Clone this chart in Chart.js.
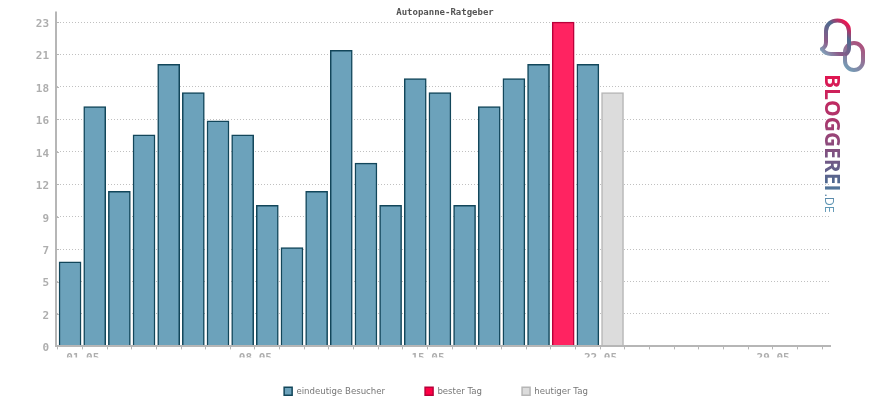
<!DOCTYPE html>
<html>
<head>
<meta charset="utf-8">
<title>Autopanne-Ratgeber</title>
<script src="https://cdn.jsdelivr.net/npm/chart.js@4"></script>
<style>
  body { margin: 0; background: #fff; }
  canvas { display: block; }
</style>
</head>
<body>
<canvas id="chart" width="870" height="400"></canvas>
<script>
// Tage im Monat
const days = [1, 2, 3, 4, 5, 6, 7, 8, 9, 10, 11, 12, 13, 14, 15, 16, 17, 18, 19, 20, 21, 22, 23, 24, 25, 26, 27, 28, 29, 30, 31];
const dayLabels = { 1: "01.05.", 8: "08.05.", 15: "15.05.", 22: "22.05.", 29: "29.05." };

// Werte
const visitors = [6, 17, 11, 15, 20, 18, 16, 15, 10, 7, 11, 21, 13, 10, 19, 18, 10, 17, 19, 20, null, 20];
const bestDay = [null, null, null, null, null, null, null, null, null, null, null, null, null, null, null, null, null, null, null, null, 23];
const today = [null, null, null, null, null, null, null, null, null, null, null, null, null, null, null, null, null, null, null, null, null, null, 18];

// y-Achse: Ticks alle 2,3, Labels gerundet
const yTicks = [0, 2.3, 4.6, 6.9, 9.2, 11.5, 13.8, 16.1, 18.4, 20.7, 23];
const yLabels = ["0", "2", "5", "7", "9", "12", "14", "16", "18", "21", "23"];

const AXIS = "#b6b6b6";
const LABEL = "#aeaeae";
const MONO = "'DejaVu Sans Mono', monospace";

function points(values) {
  return days.map((d, i) => ({ x: d, y: values[i] ?? null }));
}

// Titel und Legende nachjustieren, kleine Ticks innen, Logo
const extras = {
  id: "extras",
  afterLayout(chart) {
    chart.legend.left += 21;
    chart.legend.right += 21;
    chart.legend.top = 347;
    chart.titleBlock.left += 2;
    chart.titleBlock.right += 2;
    chart.titleBlock.top -= 2;
    chart.titleBlock.bottom -= 2;
  },
  afterDraw(chart) {
    const c = chart.ctx;
    const yScale = chart.scales.y;
    const area = chart.chartArea;
    c.save();
    c.strokeStyle = AXIS;
    c.lineWidth = 1;
    yTicks.forEach((v) => {
      const y = Math.round(yScale.getPixelForValue(v)) + 0.5;
      c.beginPath();
      c.moveTo(area.left, y);
      c.lineTo(area.left + 3, y);
      c.stroke();
    });
    // Achse oben etwas laenger
    c.lineWidth = 2;
    c.beginPath();
    c.moveTo(area.left, area.top);
    c.lineTo(area.left, area.top - 2);
    c.stroke();
    drawLogo(c);
    c.restore();
  },
};

function drawLogo(c) {
  c.lineCap = "round";
  c.lineWidth = 4;

  let g = c.createLinearGradient(844, 70, 864, 44);
  g.addColorStop(0, "#6ea3bb");
  g.addColorStop(1, "#b04a78");
  c.strokeStyle = g;
  c.beginPath();
  c.roundRect(845, 43, 18, 27, 9);
  c.stroke();

  g = c.createLinearGradient(822, 55, 850, 24);
  g.addColorStop(0, "#7fb0c4");
  g.addColorStop(0.3, "#8d5a88");
  g.addColorStop(0.7, "#4d6b8f");
  g.addColorStop(1, "#ff0a4a");
  c.strokeStyle = g;
  c.beginPath();
  c.moveTo(822, 49);
  c.quadraticCurveTo(826, 47, 826, 42);
  c.lineTo(826, 31);
  c.bezierCurveTo(826, 17, 849, 17, 849, 31);
  c.lineTo(849, 48);
  c.quadraticCurveTo(849, 52, 846, 54);
  c.stroke();
  c.beginPath();
  c.moveTo(822, 49);
  c.quadraticCurveTo(825, 54, 831, 54);
  c.lineTo(843, 54);
  c.stroke();

  c.translate(825, 74);
  c.rotate(Math.PI / 2);
  g = c.createLinearGradient(0, 0, 137, 0);
  g.addColorStop(0, "#e3134f");
  g.addColorStop(0.5, "#8f4a7c");
  g.addColorStop(0.8, "#4e6a91");
  g.addColorStop(0.95, "#5f97b5");
  c.fillStyle = g;
  c.textBaseline = "alphabetic";
  c.font = "bold 21px 'Open Sans'";
  c.fillText("BLOGGEREI", 0, 0);
  const w = c.measureText("BLOGGEREI").width;
  c.font = "12.5px 'Open Sans'";
  c.fillText(".DE", w + 2, 0);
}

new Chart(document.getElementById("chart"), {
  type: "bar",
  data: {
    datasets: [
      { label: "eindeutige Besucher", data: points(visitors), backgroundColor: "#6ca2bb", borderColor: "#12465a" },
      { label: "bester Tag", data: points(bestDay), backgroundColor: "#ff2361", borderColor: "#b8003a" },
      { label: "heutiger Tag", data: points(today), backgroundColor: "#dcdcdc", borderColor: "#b6b6b6" },
    ],
  },
  options: {
    responsive: false,
    animation: false,
    layout: { autoPadding: false, padding: { left: 0, right: 40, top: 0, bottom: -16 } },
    datasets: { bar: { grouped: false, barThickness: 22, borderWidth: 1.5 } },
    scales: {
      x: {
        type: "linear",
        offset: false,
        min: 0.43,
        max: 31.82,
        afterBuildTicks(scale) {
          scale.ticks = days.map((d) => ({ value: d }));
        },
        afterFit(scale) {
          scale.height = 11;
        },
        grid: { drawOnChartArea: false, color: AXIS, tickLength: 3, tickWidth: 1 },
        border: { color: AXIS, width: 2, z: 1 },
        ticks: {
          autoSkip: false,
          maxRotation: 0,
          padding: 2,
          labelOffset: 16,
          color: LABEL,
          font: { family: MONO, size: 11, weight: "bold" },
          callback: (v) => dayLabels[v] ?? "",
        },
      },
      y: {
        min: 0,
        max: 23.6,
        afterBuildTicks(scale) {
          scale.ticks = yTicks.map((v) => ({ value: v }));
        },
        afterFit(scale) {
          scale.width = 56;
        },
        grid: { color: "#c0c0c0", drawTicks: false },
        border: { color: AXIS, width: 2, dash: [1, 2] },
        ticks: {
          padding: 7,
          labelOffset: 2,
          color: LABEL,
          font: { family: MONO, size: 11, weight: "bold" },
          callback: (v) => yLabels[yTicks.indexOf(v)],
        },
      },
    },
    plugins: {
      tooltip: { enabled: false },
      title: {
        display: true,
        text: "Autopanne-Ratgeber",
        fullSize: false,
        color: "#555555",
        padding: { top: 2, bottom: -6 },
        font: { family: MONO, size: 9, weight: "bold", lineHeight: 1.2 },
      },
      legend: {
        position: "bottom",
        labels: {
          boxWidth: 8,
          boxHeight: 8,
          padding: 40,
          color: "#777777",
          font: { family: "'DejaVu Sans'", size: 8.6 },
          generateLabels(chart) {
            const items = Chart.defaults.plugins.legend.labels.generateLabels(chart);
            items[1].fillStyle = "#ff0044";
            return items;
          },
        },
      },
    },
  },
  plugins: [extras],
});
</script>
</body>
</html>
